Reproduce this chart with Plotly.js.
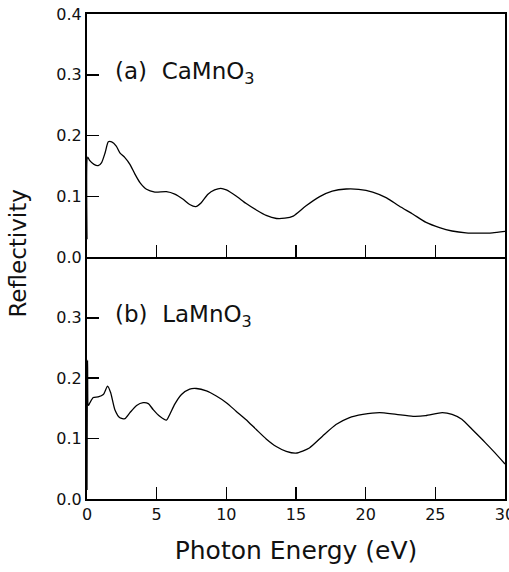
<!DOCTYPE html>
<html>
<head>
<meta charset="utf-8">
<script src="https://cdn.plot.ly/plotly-3.0.1.min.js"></script>
<style>html,body{margin:0;padding:0;background:#fff;}#chart{width:509px;height:572px;}</style>
</head>
<body>
<div id="chart"></div>
<script>
// (a) CaMnO3
const energyCa = [0, 0.05, 0.2, 0.5, 0.8, 1.05, 1.3, 1.53, 1.77, 2.1, 2.36, 2.72, 3.08, 3.44, 3.8, 4.27, 4.87, 5.7, 6.3, 6.9, 7.37, 7.8, 8.2, 8.68, 9.16, 9.6, 10.0, 10.7, 11.4, 12.15, 12.86, 13.6, 14.2, 14.8, 15.7, 16.7, 17.6, 18.6, 19.5, 20.5, 21.5, 22.4, 23.4, 24.3, 25.3, 26.2, 27.2, 28.1, 29.1, 30];
const reflCa = [0.03, 0.165, 0.159, 0.153, 0.151, 0.156, 0.172, 0.19, 0.19, 0.183, 0.172, 0.164, 0.153, 0.137, 0.123, 0.112, 0.1075, 0.108, 0.104, 0.0955, 0.087, 0.0835, 0.09, 0.104, 0.111, 0.1136, 0.111, 0.101, 0.089, 0.078, 0.069, 0.064, 0.0645, 0.068, 0.0845, 0.100, 0.109, 0.1125, 0.112, 0.1075, 0.098, 0.0845, 0.071, 0.058, 0.049, 0.0435, 0.0405, 0.040, 0.0405, 0.043];
// (b) LaMnO3
const energyLa = [0, 0.04, 0.1, 0.2, 0.45, 0.8, 1.17, 1.48, 1.7, 2.0, 2.36, 2.72, 3.08, 3.56, 4.03, 4.4, 4.75, 5.22, 5.7, 5.94, 6.3, 6.78, 7.37, 7.85, 8.57, 9.28, 10.0, 10.7, 11.4, 12.15, 12.86, 13.58, 14.3, 15.0, 15.96, 16.9, 17.87, 18.8, 19.8, 21.0, 22.2, 23.4, 24.3, 25.5, 26.2, 26.9, 27.65, 28.6, 29.3, 30];
const reflLa = [0.015, 0.23, 0.155, 0.159, 0.168, 0.169, 0.173, 0.187, 0.176, 0.148, 0.1345, 0.133, 0.143, 0.155, 0.1595, 0.158, 0.148, 0.137, 0.1305, 0.140, 0.157, 0.173, 0.182, 0.183, 0.179, 0.1705, 0.1595, 0.1455, 0.1317, 0.115, 0.0995, 0.087, 0.079, 0.076, 0.0845, 0.104, 0.1233, 0.1345, 0.140, 0.143, 0.140, 0.137, 0.138, 0.143, 0.140, 0.132, 0.115, 0.093, 0.076, 0.058];

const xTicks = [0, 5, 10, 15, 20, 25, 30];
const xTickText = ['0', '5', '10', '15', '20', '25', '30'];
const yTicksTop = [0, 0.1, 0.2, 0.3, 0.4];
const yTickTextTop = ['0.0', '0.1', '0.2', '0.3', '0.4'];
const yTicksBottom = [0, 0.1, 0.2, 0.3];
const yTickTextBottom = ['0.0', '0.1', '0.2', '0.3'];

const FONT = 'DejaVu Sans, sans-serif';
const lineStyle = {color: '#000', width: 1.3, shape: 'spline', smoothing: 0.6};

const traces = [
  {x: energyCa, y: reflCa, xaxis: 'x2', yaxis: 'y2', mode: 'lines', line: lineStyle, hoverinfo: 'skip'},
  {x: energyLa, y: reflLa, xaxis: 'x', yaxis: 'y', mode: 'lines', line: lineStyle, hoverinfo: 'skip'}
];

const axCommon = {
  ticks: 'inside', ticklen: 12, tickwidth: 1.5, tickcolor: '#000',
  showline: true, linecolor: '#000', linewidth: 2, mirror: true,
  showgrid: false, zeroline: false,
  tickfont: {family: FONT, size: 16, color: '#111'}
};
const split = 0.498;

const layout = {
  width: 509, height: 572,
  margin: {l: 87, r: 4, t: 14, b: 73},
  paper_bgcolor: '#fff', plot_bgcolor: '#fff',
  showlegend: false,
  font: {family: FONT, color: '#111'},
  xaxis: Object.assign({}, axCommon, {
    domain: [0, 1], anchor: 'y', range: [0, 30], mirror: false,
    tickmode: 'array', tickvals: xTicks, ticktext: xTickText,
    ticklabeloverflow: 'allow',
    title: {text: 'Photon Energy (eV)', font: {family: FONT, size: 25, color: '#111'}, standoff: 18}
  }),
  xaxis2: Object.assign({}, axCommon, {
    domain: [0, 1], anchor: 'y2', range: [0, 30], matches: 'x',
    tickmode: 'array', tickvals: xTicks, showticklabels: false
  }),
  yaxis: Object.assign({}, axCommon, {
    domain: [0, split], anchor: 'x', range: [0, 0.4],
    tickmode: 'array', tickvals: yTicksBottom, ticktext: yTickTextBottom
  }),
  yaxis2: Object.assign({}, axCommon, {
    domain: [split, 1], anchor: 'x2', range: [0, 0.4],
    tickmode: 'array', tickvals: yTicksTop, ticktext: yTickTextTop
  }),
  annotations: [
    {xref: 'x2', yref: 'y2', x: 1.9, y: 0.303, xanchor: 'left', yanchor: 'middle', showarrow: false,
     text: '(a)  CaMnO<sub>3</sub>', font: {family: FONT, size: 23, color: '#111'}},
    {xref: 'x', yref: 'y', x: 1.9, y: 0.303, xanchor: 'left', yanchor: 'middle', showarrow: false,
     text: '(b)  LaMnO<sub>3</sub>', font: {family: FONT, size: 23, color: '#111'}},
    {xref: 'paper', yref: 'paper', x: 0, y: 0.506, xshift: -69, xanchor: 'center', yanchor: 'middle',
     showarrow: false, textangle: -90, text: 'Reflectivity', font: {family: FONT, size: 23, color: '#111'}}
  ]
};

Plotly.newPlot('chart', traces, layout, {staticPlot: true, displayModeBar: false});
</script>
</body>
</html>
